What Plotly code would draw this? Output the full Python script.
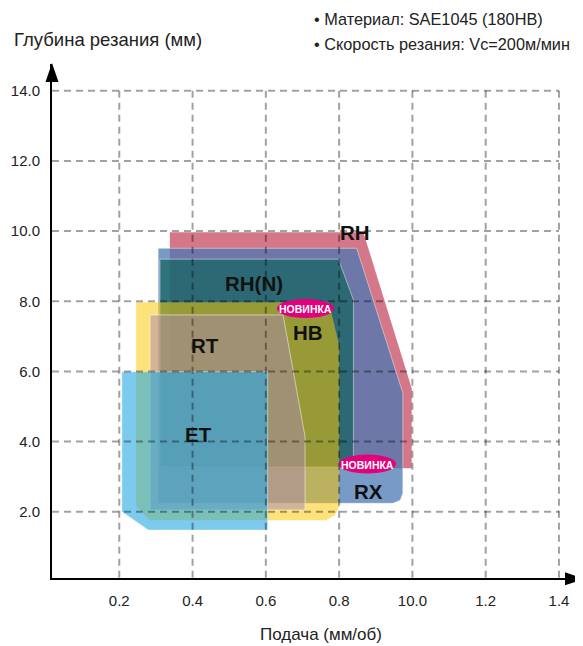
import plotly.graph_objects as go

# ---------------- data ----------------
X_TICKS = [0.2, 0.4, 0.6, 0.8, 1.0, 1.2, 1.4]
X_TICK_TEXT = ["0.2", "0.4", "0.6", "0.8", "10.0", "1.2", "1.4"]
Y_TICKS = [2.0, 4.0, 6.0, 8.0, 10.0, 12.0, 14.0]
Y_TICK_TEXT = ["2.0", "4.0", "6.0", "8.0", "10.0", "12.0", "14.0"]

# chipbreaker application areas (feed mm/rev, depth of cut mm)
RH_X = [0.338, 0.338, 0.866, 0.998, 0.998]
RH_Y = [3.24, 9.97, 9.97, 5.52, 3.24]

RX_X = [0.306, 0.306, 0.848, 0.974, 0.974, 0.967, 0.947, 0.306]
RX_Y = [2.24, 9.51, 9.51, 5.38, 2.53, 2.33, 2.24, 2.24]

RHN_X = [0.311, 0.311, 0.798, 0.839, 0.839, 0.311]
RHN_Y = [3.27, 9.20, 9.20, 8.04, 3.27, 3.27]

HB_X = [0.246, 0.246, 0.772, 0.800, 0.800, 0.790, 0.765, 0.284, 0.246]
HB_Y = [2.15, 7.97, 7.97, 6.75, 2.15, 1.92, 1.76, 1.76, 2.15]

RT_X = [0.284, 0.284, 0.647, 0.707, 0.707, 0.284]
RT_Y = [2.05, 7.61, 7.61, 4.14, 2.05, 2.05]

ET_X = [0.207, 0.207, 0.605, 0.605, 0.279, 0.207]
ET_Y = [2.00, 5.99, 5.99, 1.48, 1.48, 2.00]

# ---------------- geometry helpers (page pixel -> data) ----------------
PAGE_OFF = 8                      # browser default body margin
W, H = 583 - PAGE_OFF, 646 - PAGE_OFF
PL, PR, PT, PB = 52, 583, 64, 578  # plot area in page pixels
ML, MR, MT, MB = PL - PAGE_OFF, 0, PT - PAGE_OFF, H - (PB - PAGE_OFF)
X0_PX, X_SCALE = 46.0, 366.4      # page px of feed 0, px per unit
Y0_PX, Y_SCALE = 581.9, 35.08     # page px of depth 0, px per unit


def dx(px):
    return (px - X0_PX) / X_SCALE


def dy(py):
    return (Y0_PX - py) / Y_SCALE


def pxp(px):
    return (px - PL) / (PR - PL)


def pyp(py):
    return (PB - py) / (PB - PT)


XR = [dx(PL), dx(PR)]
YR = [dy(PB), dy(PT)]

FONT = "Liberation Sans, Arial, Helvetica, sans-serif"

fig = go.Figure()

regions = [
    (RH_X, RH_Y, "rgba(205,95,115,0.85)", "rgba(0,0,0,0)"),
    (RX_X, RX_Y, "rgba(75,120,180,0.75)", "rgba(255,255,255,0.45)"),
    (RHN_X, RHN_Y, "rgba(20,100,95,0.72)", "rgba(255,255,255,0.45)"),
    (HB_X, HB_Y, "rgba(252,200,0,0.52)", "rgba(0,0,0,0)"),
    (RT_X, RT_Y, "rgba(170,135,175,0.5)", "rgba(255,255,255,0.5)"),
    (ET_X, ET_Y, "rgba(37,168,227,0.6)", "rgba(255,255,255,0.4)"),
]
for xs, ys, fc, lc in regions:
    fig.add_trace(go.Scatter(x=xs, y=ys, mode="lines", fill="toself",
                             fillcolor=fc, line=dict(color=lc, width=1),
                             hoverinfo="skip", showlegend=False))

shapes = []
GRID = dict(color="rgba(0,0,0,0.37)", width=2, dash="7px,5px")
for xv in X_TICKS:
    shapes.append(dict(type="line", xref="x", yref="y", x0=xv, x1=xv,
                       y0=Y_TICKS[-1], y1=YR[0], line=GRID, layer="above"))
for yv in Y_TICKS:
    shapes.append(dict(type="line", xref="x", yref="y", x0=XR[0], x1=X_TICKS[-1],
                       y0=yv, y1=yv, line=GRID, layer="above"))

# arrowheads (paper refs so they are not clipped by the plot area)
ax_px, ay_px = 52, 578.8
shapes.append(dict(type="path", xref="paper", yref="paper",
                   path=(f"M {pxp(ax_px)},{pyp(63)} L {pxp(ax_px-6.5)},{pyp(82)} "
                         f"L {pxp(ax_px+6.5)},{pyp(82)} Z"),
                   fillcolor="black", line=dict(width=0), layer="above"))
shapes.append(dict(type="path", xref="paper", yref="paper",
                   path=(f"M {pxp(584)},{pyp(ay_px)} L {pxp(565)},{pyp(ay_px-6.5)} "
                         f"L {pxp(565)},{pyp(ay_px+6.5)} Z"),
                   fillcolor="black", line=dict(width=0), layer="above"))

# "new" badges
BADGES = [(305.5, 308.5), (367.5, 464.0)]
for cx, cy in BADGES:
    shapes.append(dict(type="circle", xref="x", yref="y",
                       x0=dx(cx - 28.5), x1=dx(cx + 28.5), y0=dy(cy + 9.5), y1=dy(cy - 9.5),
                       fillcolor="#e2007d", line=dict(width=0), layer="above"))

annotations = []
for cx, cy in BADGES:
    annotations.append(dict(x=dx(cx), y=dy(cy + 0.5), xref="x", yref="y", text="<b>НОВИНКА</b>",
                            showarrow=False, font=dict(family=FONT, size=10.5, color="white")))

LABELS = [("RH", 355, 232.5), ("RH(N)", 253.5, 283.5), ("HB", 308, 332),
          ("RT", 205, 345), ("ET", 198, 434), ("RX", 368, 491)]
for t, cx, cy in LABELS:
    annotations.append(dict(x=dx(cx), y=dy(cy), xref="x", yref="y", text=f"<b>{t}</b>",
                            showarrow=False, font=dict(family=FONT, size=20.5, color="#111")))

annotations += [
    dict(x=pxp(12), y=pyp(40), xref="paper", yref="paper", xanchor="left", yanchor="middle",
         text="Глубина резания (мм)", showarrow=False, font=dict(family=FONT, size=18.5, color="#222")),
    dict(x=pxp(312), y=pyp(19), xref="paper", yref="paper", xanchor="left", yanchor="middle",
         text="• Материал: SAE1045 (180HB)", showarrow=False, font=dict(family=FONT, size=16.3, color="#222")),
    dict(x=pxp(312), y=pyp(44), xref="paper", yref="paper", xanchor="left", yanchor="middle",
         text="• Скорость резания: Vc=200м/мин", showarrow=False, font=dict(family=FONT, size=16.3, color="#222")),
    dict(x=pxp(321), y=pyp(634), xref="paper", yref="paper", xanchor="center", yanchor="middle",
         text="Подача (мм/об)", showarrow=False, font=dict(family=FONT, size=17, color="#222")),
]

fig.update_layout(
    width=W, height=H, margin=dict(l=ML, r=MR, t=MT, b=MB),
    paper_bgcolor="white", plot_bgcolor="white",
    shapes=shapes, annotations=annotations, showlegend=False,
    xaxis=dict(range=XR, showgrid=False, zeroline=False, showline=True, linecolor="black",
               linewidth=2, tickvals=X_TICKS, ticktext=X_TICK_TEXT, ticks="",
               tickfont=dict(family=FONT, size=15, color="#222"), ticklabelstandoff=8,
               fixedrange=True),
    yaxis=dict(range=YR, showgrid=False, zeroline=False, showline=True, linecolor="black",
               linewidth=2, tickvals=Y_TICKS, ticktext=Y_TICK_TEXT, ticks="",
               tickfont=dict(family=FONT, size=15, color="#222"), ticklabelstandoff=7,
               fixedrange=True),
)

fig.write_html("out.html", config={"displayModeBar": False})
